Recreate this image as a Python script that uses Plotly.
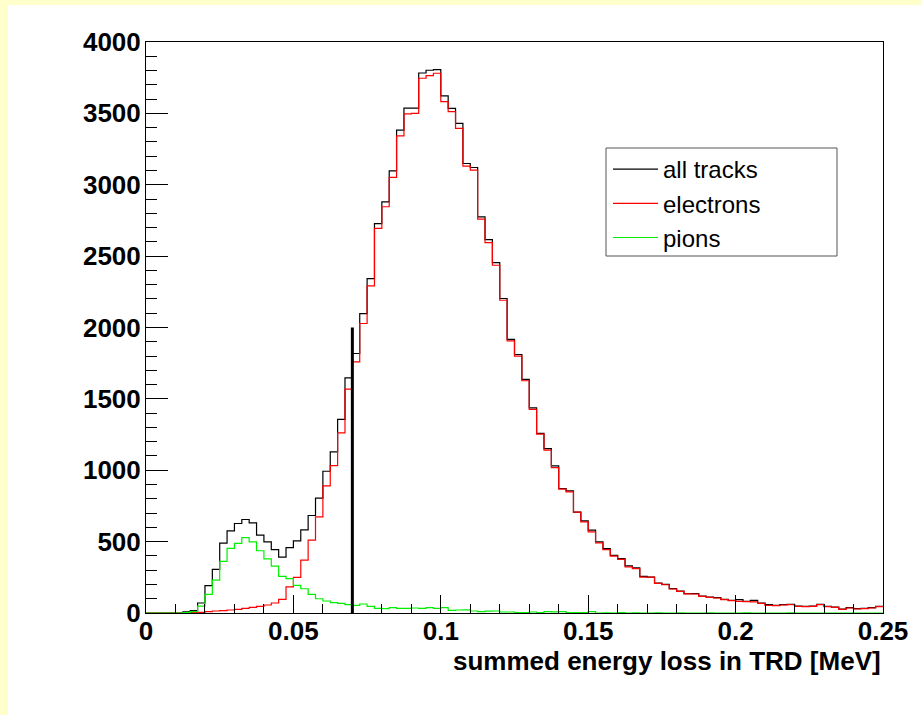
import numpy as np
import plotly.graph_objects as go

# ---- data (100 bins, 0 .. 0.25 MeV, bin width 0.0025) ----
x_min = 0.0
x_max = 0.25
n_bins = 100

all_tracks = [0, 0, 0, 0, 0, 8, 17, 70, 192, 305,
              490, 575, 627, 655, 632, 545, 498, 444, 392, 458,
              505, 582, 683, 805, 993, 1129, 1356, 1647, 1818, 2097,
              2343, 2728, 2880, 3097, 3383, 3537, 3537, 3783, 3802, 3807,
              3623, 3535, 3430, 3149, 3121, 2775, 2616, 2455, 2203, 1917,
              1811, 1637, 1437, 1258, 1152, 1031, 872, 856, 706, 645,
              580, 498, 451, 404, 381, 330, 316, 257, 252, 210,
              201, 171, 154, 136, 136, 119, 112, 108, 96, 89,
              93, 82, 89, 70, 58, 54, 58, 61, 49, 47,
              49, 61, 47, 42, 28, 37, 30, 33, 37, 47]

electrons = [0, 0, 0, 0, 0, 1, 3, 5, 9, 14,
             16, 21, 26, 33, 40, 47, 56, 70, 96, 183,
             249, 370, 510, 673, 890, 1033, 1262, 1568, 1759, 2028,
             2292, 2694, 2846, 3052, 3343, 3496, 3500, 3746, 3764, 3781,
             3582, 3512, 3395, 3131, 3102, 2759, 2594, 2436, 2191, 1907,
             1800, 1627, 1427, 1253, 1141, 1019, 868, 849, 706, 639,
             568, 491, 444, 398, 375, 323, 311, 252, 252, 208,
             198, 168, 151, 134, 133, 117, 110, 105, 94, 87,
             82, 80, 78, 68, 54, 52, 56, 58, 47, 45,
             47, 58, 45, 40, 26, 35, 28, 31, 35, 45]

pions = [0, 0, 0, 0, 0, 3, 10, 48, 131, 230,
         361, 453, 488, 528, 498, 436, 379, 328, 257, 241,
         194, 170, 130, 100, 84, 73, 68, 58, 54, 63,
         47, 33, 30, 37, 33, 33, 35, 33, 37, 33,
         38, 18, 21, 22, 14, 9, 13, 14, 7, 7,
         3, 2, 7, 2, 9, 8, 9, 2, 3, 2,
         9, 0, 1, 0, 2, 0, 1, 0, 0, 1,
         0, 0, 1, 0, 0, 0, 1, 0, 0, 0,
         0, 1, 0, 0, 0, 0, 0, 1, 0, 0,
         0, 0, 0, 0, 0, 0, 0, 0, 0, 0]

cut_x = 0.07
cut_height = 2000

series_names = ["all tracks", "electrons", "pions"]
x_title = "summed energy loss in TRD [MeV]"

# ---- figure ----
edges = np.linspace(x_min, x_max, n_bins + 1)

def step_y(vals):
    return list(vals) + [vals[-1]]

colors = ["#000000", "#FF0000", "#00F000"]
fig = go.Figure()
for name, vals, col in zip(series_names, [all_tracks, electrons, pions], colors):
    fig.add_trace(go.Scatter(
        x=edges, y=step_y(vals), mode="lines", name=name,
        line=dict(color=col, width=1.2, shape="hv"),
    ))

fig.add_trace(go.Scatter(
    x=[cut_x, cut_x], y=[0, cut_height], mode="lines", showlegend=False,
    line=dict(color="#000000", width=3),
))

W, H = 922, 715
L, R, T, B = 146, 39, 42, 102
pw = W - L - R
ph = H - T - B

def px_to_paper_x(px):
    return (px - L) / pw

def py_to_paper_y(py):
    return (H - B - py) / ph

tickfont = dict(family="Liberation Sans", size=26, color="black", weight="bold")

fig.update_layout(
    width=W, height=H,
    margin=dict(l=L, r=R, t=T, b=B, pad=0),
    paper_bgcolor="#FFFFCC",
    plot_bgcolor="white",
    showlegend=True,
    legend=dict(
        x=px_to_paper_x(608), y=py_to_paper_y(147),
        xanchor="left", yanchor="top",
        bgcolor="rgba(0,0,0,0)", borderwidth=0,
        font=dict(family="Liberation Sans", size=24, color="black"),
        itemwidth=45,
    ),
    xaxis=dict(
        range=[x_min, x_max], showgrid=False, zeroline=False,
        showline=True, linecolor="black", linewidth=1, mirror=True,
        ticks="inside", ticklen=18, tickcolor="black", tickwidth=1,
        dtick=0.05, tick0=0, tickfont=tickfont, tickformat="~g",
        ticklabelstandoff=-5,
        minor=dict(dtick=0.01, ticks="inside", ticklen=9, tickcolor="black", showgrid=False),
    ),
    yaxis=dict(
        range=[0, 4000], showgrid=False, zeroline=False,
        showline=True, linecolor="black", linewidth=1, mirror=True,
        ticks="inside", ticklen=22, tickcolor="black", tickwidth=1,
        dtick=500, tick0=0, tickfont=tickfont,
        ticklabelstandoff=-1,
        minor=dict(dtick=100, ticks="inside", ticklen=11, tickcolor="black", showgrid=False),
    ),
    shapes=[
        dict(type="rect", xref="paper", yref="paper", layer="below",
             x0=px_to_paper_x(8), x1=px_to_paper_x(930),
             y0=py_to_paper_y(730), y1=py_to_paper_y(5),
             fillcolor="white", line=dict(width=0)),
        dict(type="rect", xref="paper", yref="paper", layer="above",
             x0=px_to_paper_x(606), x1=px_to_paper_x(837),
             y0=py_to_paper_y(256), y1=py_to_paper_y(148),
             fillcolor="rgba(0,0,0,0)", line=dict(color="#555555", width=1)),
    ],
    annotations=[
        dict(text=x_title, xref="paper", yref="paper", x=1, y=0,
             xanchor="right", yanchor="middle", yshift=-48, showarrow=False,
             font=dict(family="Liberation Sans", size=26, color="black", weight="bold")),
    ],
)

fig.write_html("out.html")
